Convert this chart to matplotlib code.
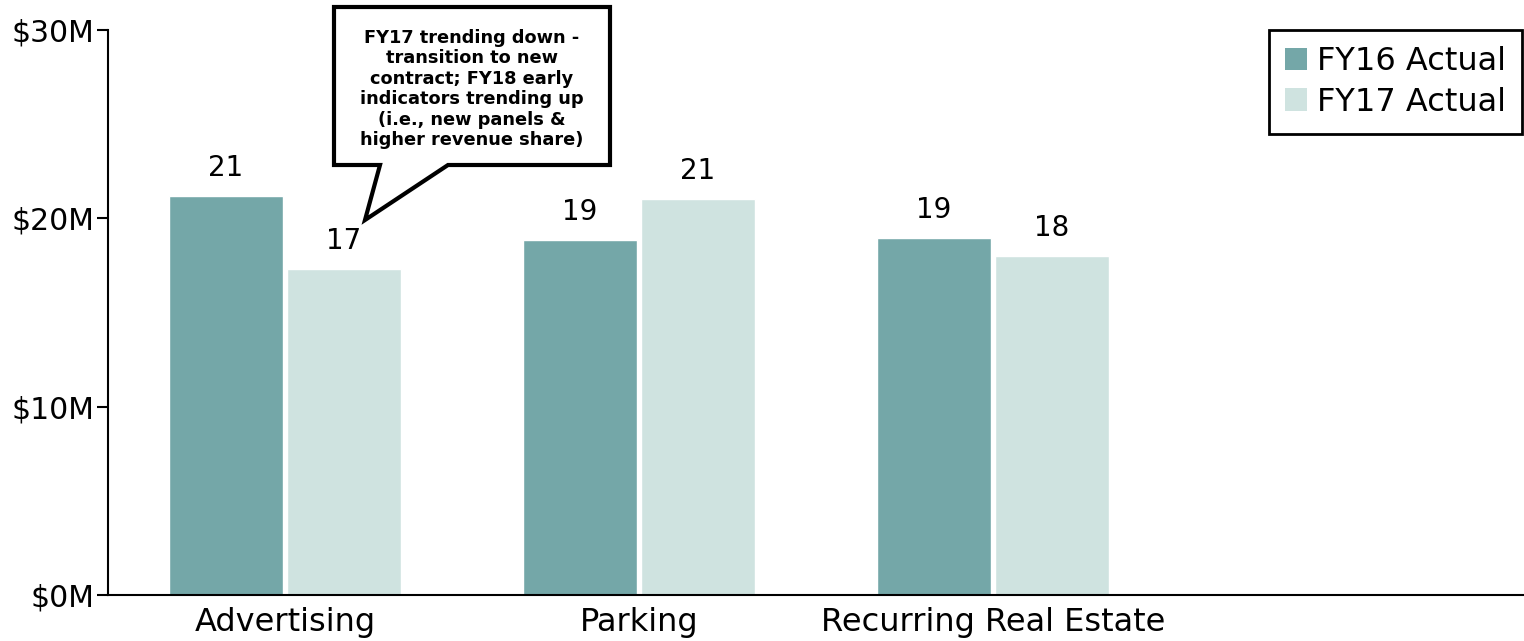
import matplotlib
matplotlib.use("Agg")
import matplotlib.pyplot as plt
from matplotlib.patches import Patch, Polygon
import numpy as np

categories = ["Advertising", "Parking", "Recurring Real Estate", ""]
fy16 = [21.2, 18.85, 18.95, None]
fy17 = [17.3, 21.05, 18.0, None]
fy16_labels = ["21", "19", "19"]
fy17_labels = ["17", "21", "18"]
series_names = ["FY16 Actual", "FY17 Actual"]
yticks = [0, 10, 20, 30]
ytick_labels = ["$0M", "$10M", "$20M", "$30M"]
callout_text = ("FY17 trending down -\ntransition to new\ncontract; FY18 early\n"
                "indicators trending up\n(i.e., new panels &\nhigher revenue share)")

c16 = "#74a7a8"
c17 = "#cfe3e0"

plt.rcParams['font.family'] = ['DejaVu Sans']
W, H = 1524, 641
fig = plt.figure(figsize=(W / 100, H / 100), dpi=100)
ax = fig.add_axes([108 / W, 1 - 595 / H, 1 - 108 / W, (595 - 30) / H])

x = np.arange(len(categories))
n = 3
bw = 0.322
off = 0.167
ax.bar(x[:n] - off, fy16[:n], width=bw, color=c16, edgecolor="white", linewidth=1)
ax.bar(x[:n] + off, fy17[:n], width=bw, color=c17, edgecolor="white", linewidth=1)

for i in range(n):
    ax.annotate(fy16_labels[i], (x[i] - off, fy16[i]), xytext=(0, 10), textcoords="offset points",
                ha="center", va="bottom", fontsize=20)
    ax.annotate(fy17_labels[i], (x[i] + off, fy17[i]), xytext=(0, 10), textcoords="offset points",
                ha="center", va="bottom", fontsize=20)

ax.set_xlim(-0.5, len(categories) - 0.5)
ax.set_ylim(0, 30)
ax.set_yticks(yticks)
ax.set_yticklabels(ytick_labels, fontsize=21.5)
ax.set_xticks(x)
ax.set_xticklabels(categories, fontsize=23)
ax.tick_params(axis="x", length=0, pad=9)
ax.tick_params(axis="y", length=8, width=1.5, direction="out", pad=2)
for s in ["top", "right"]:
    ax.spines[s].set_visible(False)
ax.spines["left"].set_linewidth(1.5)
ax.spines["bottom"].set_linewidth(1.5)

handles = [Patch(facecolor=c16, edgecolor="none"), Patch(facecolor=c17, edgecolor="none")]
leg = fig.legend(handles, series_names, loc="upper right",
                 bbox_to_anchor=(1522 / W, 1 - 30 / H), bbox_transform=fig.transFigure,
                 borderaxespad=0, fontsize=23, frameon=True, fancybox=False, framealpha=1,
                 handlelength=0.7, handleheight=0.7, handletextpad=0.3,
                 labelspacing=0.3, borderpad=0.5)
leg.get_frame().set_edgecolor("black")
leg.get_frame().set_linewidth(2)

# callout bubble (figure pixel geometry converted to figure fraction)
pts = [(334, 7), (610, 7), (610, 165), (448, 165), (365, 220), (380, 165), (334, 165)]
poly = Polygon([(px / W, 1 - py / H) for px, py in pts], closed=True, transform=fig.transFigure,
               facecolor="white", edgecolor="black", linewidth=3, joinstyle="miter")
fig.add_artist(poly)
fig.text(472 / W, 1 - 89 / H, callout_text, ha="center", va="center", fontsize=12.8,
         fontweight="bold", linespacing=1.18)

fig.savefig("out.png", dpi=100)
